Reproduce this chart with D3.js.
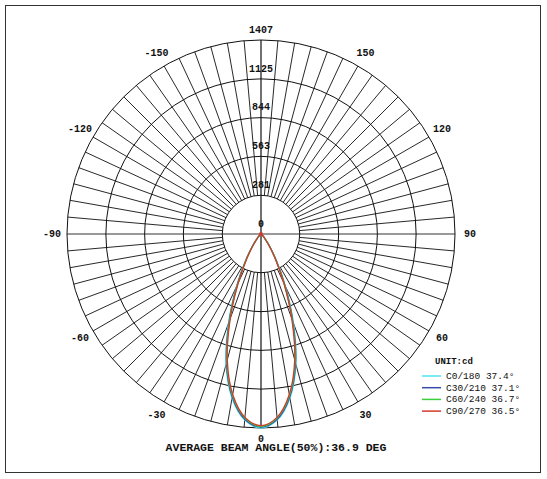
<!DOCTYPE html>
<html><head><meta charset="utf-8">
<script src="https://cdn.jsdelivr.net/npm/d3@7"></script>
<style>body{margin:0;background:#fff}text{font-family:"Liberation Mono","DejaVu Sans Mono",monospace;font-size:10px;fill:#111;font-weight:bold}</style>
</head><body><div id="chart"></div>
<script>
const rings = [0, 281, 563, 844, 1125, 1407];
const angleLabels = [-150, -120, -90, -60, -30, 0, 30, 60, 90, 120, 150];
const gammas = [0, 5, 10, 15, 20, 25, 30, 35, 40, 45, 50, 60, 70, 80, 90];
const seriesNames = ['C0/180 37.4°', 'C30/210 37.1°', 'C60/240 36.7°', 'C90/270 36.5°'];
const seriesColors = ['#4fe3f0', '#3b4aa8', '#3ccf3c', '#d43a2a'];
const c0 = [1407, 1355, 1210, 980, 690, 420, 225, 110, 50, 22, 9, 3, 1, 0, 0];
const c30 = [1400, 1348, 1200, 968, 675, 410, 218, 106, 48, 21, 9, 3, 1, 0, 0];
const c60 = [1395, 1340, 1190, 955, 662, 400, 212, 102, 46, 20, 8, 3, 1, 0, 0];
const c90 = [1390, 1335, 1182, 945, 652, 392, 207, 100, 45, 20, 8, 3, 1, 0, 0];
const series = [c0, c30, c60, c90];

const W = 547, H = 479, cx = 261, cy = 234, R = 194;
const svg = d3.select('#chart').append('svg').attr('width', W).attr('height', H);
svg.append('rect').attr('x', 5.5).attr('y', 5.5).attr('width', 535).attr('height', 467)
    .attr('fill', 'none').attr('stroke', '#333');

const r = d3.scaleLinear().domain([0, 1407]).range([0, R]);
const g = svg.append('g').attr('transform', `translate(${cx},${cy})`);
// angle 0 = down, positive to the right
const pt = (deg, v) => [r(v) * Math.sin(deg * Math.PI / 180), r(v) * Math.cos(deg * Math.PI / 180)];

d3.range(0, 360, 5).forEach(a => {
    if (a % 90 === 0) return;
    const p1 = pt(a, rings[1]), p2 = pt(a, 1407);
    g.append('line').attr('x1', p1[0]).attr('y1', p1[1]).attr('x2', p2[0]).attr('y2', p2[1])
        .attr('stroke', '#111').attr('stroke-width', 0.9);
});
g.append('line').attr('x1', -R).attr('x2', R).attr('y1', 0).attr('y2', 0).attr('stroke', '#777').attr('stroke-width', 1.6);
g.append('line').attr('x1', 0).attr('x2', 0).attr('y1', -R).attr('y2', R).attr('stroke', '#111').attr('stroke-width', 1.2);
rings.slice(1).forEach(v => g.append('circle').attr('r', r(v)).attr('fill', 'none').attr('stroke', '#111').attr('stroke-width', 1));
rings.forEach(v => g.append('text').attr('x', 0).attr('y', -r(v) - 10).attr('text-anchor', 'middle')
    .attr('dominant-baseline', 'middle').text(v));
angleLabels.forEach(a => {
    const p = pt(a, 1407);
    const k = (R + 15) / R;
    g.append('text').attr('x', p[0] * k).attr('y', p[1] * k + (a === 0 ? -4 : 0)).attr('text-anchor', 'middle')
        .attr('dominant-baseline', 'middle').text(a);
});

const line = d3.line().curve(d3.curveCatmullRom);
series.forEach((s, i) => {
    const pts = [];
    for (let j = gammas.length - 1; j >= 0; j--) pts.push(pt(-gammas[j], s[j]));
    for (let j = 1; j < gammas.length; j++) pts.push(pt(gammas[j], s[j]));
    g.append('path').attr('d', line(pts)).attr('fill', 'none').attr('stroke', seriesColors[i]).attr('stroke-width', 1.3);
});
g.append('circle').attr('r', 2).attr('fill', '#d43a2a');

svg.append('text').attr('x', 276).attr('y', 451).attr('text-anchor', 'middle').style('font-size', '11.5px')
    .text('AVERAGE BEAM ANGLE(50%):36.9 DEG');
svg.append('text').attr('x', 435).attr('y', 364).style('font-size', '9px').text('UNIT:cd');
seriesNames.forEach((n, i) => {
    const y = 376 + i * 11.7;
    svg.append('line').attr('x1', 422).attr('x2', 441).attr('y1', y).attr('y2', y).attr('stroke', seriesColors[i]).attr('stroke-width', 1.5);
    svg.append('text').attr('x', 446).attr('y', y + 3).style('font-size', '9.5px').style('font-weight', 'normal').text(n);
});
</script></body></html>
